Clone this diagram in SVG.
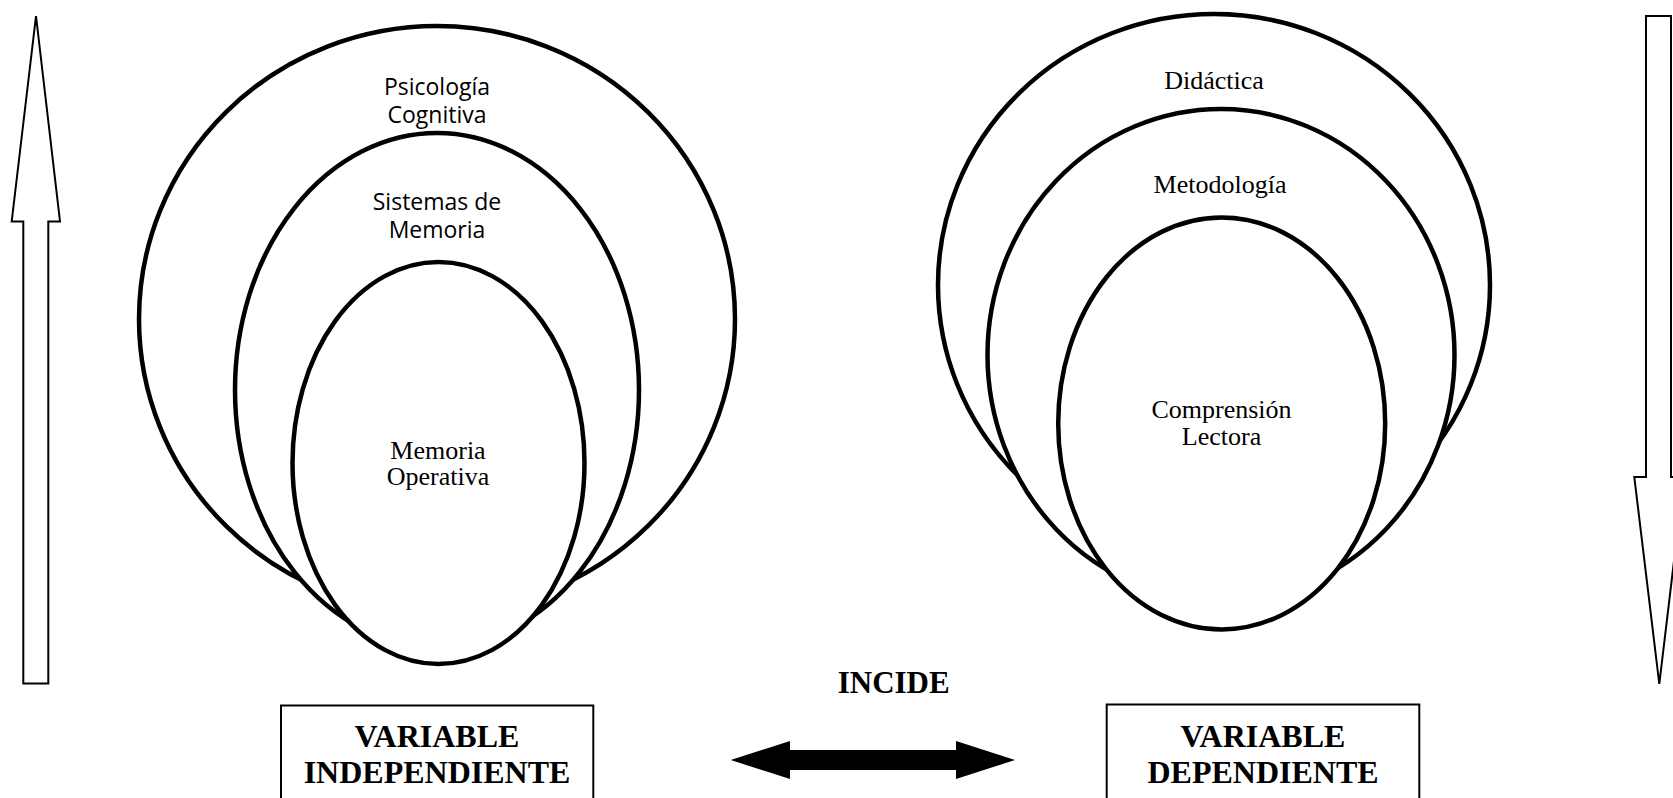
<svg xmlns="http://www.w3.org/2000/svg" width="1673" height="798" viewBox="0 0 1673 798">
<style>
.ring{fill:#fff;stroke:#000;stroke-width:4.5}
.blk{fill:#fff;stroke:#000;stroke-width:2}
.box{fill:#fff;stroke:#000;stroke-width:2}
.sans{font-family:"Open Sans","Noto Sans",sans-serif;font-size:23px;fill:#000;text-anchor:middle}
.serif{font-family:"Liberation Serif","Times New Roman",serif;font-size:26px;fill:#000;text-anchor:middle}
.bold{font-family:"Liberation Serif","Times New Roman",serif;font-size:32px;font-weight:bold;fill:#000;text-anchor:middle}
</style>
<rect width="1673" height="798" fill="#fff"/>
<g id="connectors">
<polygon class="blk" points="36,16 60,221.5 48.3,221.5 48.3,683.5 23.3,683.5 23.3,221.5 11.7,221.5"/>
<polygon class="blk" points="1646,16 1671,16 1671,477 1684,477 1659.3,684 1634.3,477 1646,477"/>
<polygon fill="#000" points="730.7,760 790,741 790,750 956,750 956,741 1015,760 956,779 956,770 790,770 790,779"/>
</g>
<g id="psicologia-cognitiva">
<ellipse class="ring" cx="437" cy="319" rx="298" ry="293"/>
<text class="sans" x="437" y="95">Psicología</text>
<text class="sans" x="437" y="123">Cognitiva</text>
</g>
<g id="sistemas-memoria">
<ellipse class="ring" cx="437" cy="390" rx="202" ry="257"/>
<text class="sans" x="437" y="209.5">Sistemas de</text>
<text class="sans" x="437" y="237.5">Memoria</text>
</g>
<g id="memoria-operativa">
<ellipse class="ring" cx="438.5" cy="463" rx="146" ry="201"/>
<text class="serif" x="438" y="459">Memoria</text>
<text class="serif" x="438" y="485">Operativa</text>
</g>
<g id="didactica">
<ellipse class="ring" cx="1214" cy="285" rx="276" ry="271"/>
<text class="serif" x="1214" y="89">Didáctica</text>
</g>
<g id="metodologia">
<ellipse class="ring" cx="1221" cy="355" rx="233.5" ry="246"/>
<text class="serif" x="1220" y="192.5">Metodología</text>
</g>
<g id="comprension-lectora">
<ellipse class="ring" cx="1221.7" cy="423.4" rx="163.5" ry="206"/>
<text class="serif" x="1221.5" y="418">Comprensión</text>
<text class="serif" x="1221.5" y="444.5">Lectora</text>
</g>
<g id="variable-independiente">
<rect class="box" x="281" y="705.5" width="312.3" height="110"/>
<text class="bold" x="437" y="747">VARIABLE</text>
<text class="bold" x="437" y="783">INDEPENDIENTE</text>
</g>
<g id="incide">
<text class="bold" x="893.7" y="693" style="font-size:31px">INCIDE</text>
</g>
<g id="variable-dependiente">
<rect class="box" x="1106.7" y="704.5" width="312.6" height="110"/>
<text class="bold" x="1263" y="747">VARIABLE</text>
<text class="bold" x="1263" y="783">DEPENDIENTE</text>
</g>
</svg>
